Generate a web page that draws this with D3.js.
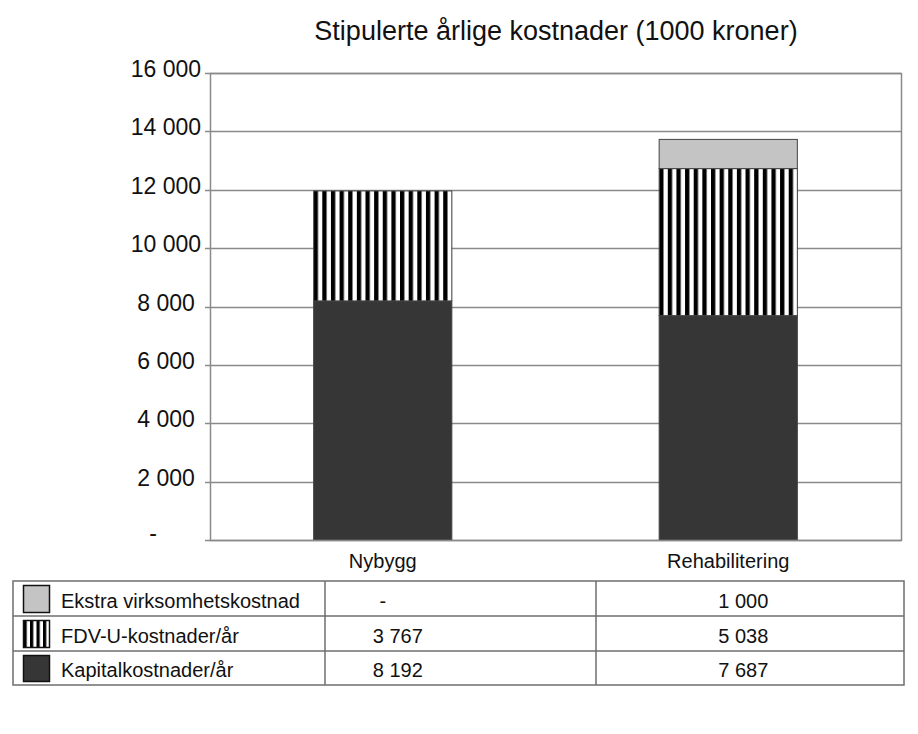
<!DOCTYPE html>
<html>
<head>
<meta charset="utf-8">
<script src="https://cdn.jsdelivr.net/npm/d3@7"></script>
<style>
  html, body { margin: 0; padding: 0; background: #fff; }
  svg { display: block; font-family: "Liberation Sans", Arial, sans-serif; }
</style>
</head>
<body>
<svg id="chart" width="918" height="734"></svg>
<script>
// ---- Data ----
const title = "Stipulerte årlige kostnader (1000 kroner)";
const categories = ["Nybygg", "Rehabilitering"];
const seriesNames = ["Kapitalkostnader/år", "FDV-U-kostnader/år", "Ekstra virksomhetskostnad"];
const kapitalkostnader = [8192, 7687];
const fdvuKostnader = [3767, 5038];
const ekstraKostnad = [0, 1000];
const yTickValues = [0, 2000, 4000, 6000, 8000, 10000, 12000, 14000, 16000];

// ---- Layout ----
const W = 918, H = 734;
const plot = { left: 210, right: 901, top: 73, bottom: 540 };
const table = { left: 13, right: 904, col1: 325, col2: 596, rows: [581, 616, 651, 685] };
const gridColor = "#8a8a8a";
const fills = ["#363636", "url(#stripesBar)", "#c4c4c4"];
const swatchFills = ["#363636", "url(#stripesSwatch)", "#c4c4c4"];

const locale = d3.formatLocale({ decimal: ",", thousands: " ", grouping: [3], currency: ["", ""] });
const fmtNum = locale.format(",d");
const fmt = v => v === 0 ? "-" : fmtNum(v);

const svg = d3.select("#chart");

// patterns
const defs = svg.append("defs");
function stripes(id, frac) {
  const p = defs.append("pattern").attr("id", id)
    .attr("patternUnits", "objectBoundingBox")
    .attr("patternContentUnits", "objectBoundingBox")
    .attr("width", frac).attr("height", 1);
  p.append("rect").attr("x", 0).attr("y", 0).attr("width", frac).attr("height", 1).attr("fill", "#fff");
  p.append("rect").attr("x", 0).attr("y", 0).attr("width", frac * 0.5).attr("height", 1).attr("fill", "#000");
}
stripes("stripesBar", 1 / 16);
stripes("stripesSwatch", 1 / 4);

// scales
const x = d3.scaleBand().domain(categories).range([plot.left, plot.right])
  .paddingInner(0.6).paddingOuter(0.3);
const y = d3.scaleLinear().domain([0, 16000]).range([plot.bottom, plot.top]);

// title
svg.append("text").attr("x", 556).attr("y", 40).attr("text-anchor", "middle")
  .attr("font-size", 27).attr("fill", "#111").text(title);

// gridlines + ticks
const grid = svg.append("g");
grid.selectAll("line").data(yTickValues).join("line")
  .attr("x1", plot.left - 5).attr("x2", plot.right)
  .attr("y1", d => Math.round(y(d)) + 0.5).attr("y2", d => Math.round(y(d)) + 0.5)
  .attr("stroke", gridColor).attr("stroke-width", 1.3);

// y axis labels
svg.append("g").selectAll("text").data(yTickValues).join("text")
  .attr("x", d => d === 0 ? 153 : 166)
  .attr("y", d => y(d) + (d === 0 ? 1 : 4))
  .attr("text-anchor", "middle")
  .attr("font-size", 23).attr("fill", "#111")
  .text(d => fmt(d));

// stacked data
const rows = categories.map((c, i) => ({
  cat: c, k: kapitalkostnader[i], f: fdvuKostnader[i], e: ekstraKostnad[i]
}));
const stack = d3.stack().keys(["k", "f", "e"])(rows);

const barG = svg.append("g");
stack.forEach((layer, si) => {
  barG.selectAll(null).data(layer.filter(d => d[1] - d[0] > 0)).join("rect")
    .attr("x", d => x(d.data.cat))
    .attr("width", x.bandwidth())
    .attr("y", d => y(d[1]))
    .attr("height", d => y(d[0]) - y(d[1]))
    .attr("fill", fills[si])
    .attr("stroke", "#444").attr("stroke-width", 1);
});

// plot frame
svg.append("rect").attr("x", plot.left + 0.5).attr("y", plot.top + 0.5)
  .attr("width", plot.right - plot.left).attr("height", plot.bottom - plot.top)
  .attr("fill", "none").attr("stroke", gridColor).attr("stroke-width", 1.5);

// category labels
svg.append("g").selectAll("text").data(categories).join("text")
  .attr("x", d => x(d) + x.bandwidth() / 2)
  .attr("y", 568).attr("text-anchor", "middle")
  .attr("font-size", 20).attr("fill", "#111").text(d => d);

// ---- data table ----
const tg = svg.append("g");
const lineColor = "#6e6e6e";
tg.append("rect").attr("x", table.left).attr("y", table.rows[0])
  .attr("width", table.right - table.left).attr("height", table.rows[3] - table.rows[0])
  .attr("fill", "none").attr("stroke", lineColor).attr("stroke-width", 1.5);
[table.rows[1], table.rows[2]].forEach(yy => {
  tg.append("line").attr("x1", table.left).attr("x2", table.right)
    .attr("y1", yy).attr("y2", yy).attr("stroke", lineColor).attr("stroke-width", 1.5);
});
[table.col1, table.col2].forEach(xx => {
  tg.append("line").attr("x1", xx).attr("x2", xx)
    .attr("y1", table.rows[0]).attr("y2", table.rows[3]).attr("stroke", lineColor).attr("stroke-width", 1.5);
});

const tableSeries = [
  { name: seriesNames[2], values: ekstraKostnad, fill: swatchFills[2] },
  { name: seriesNames[1], values: fdvuKostnader, fill: swatchFills[1] },
  { name: seriesNames[0], values: kapitalkostnader, fill: swatchFills[0] }
];
tableSeries.forEach((s, r) => {
  const top = table.rows[r], bot = table.rows[r + 1], mid = (top + bot) / 2;
  tg.append("rect").attr("x", 23.5).attr("y", top + 4.5)
    .attr("width", 26).attr("height", bot - top - 8)
    .attr("fill", s.fill).attr("stroke", "#111").attr("stroke-width", 1.5);
  tg.append("text").attr("x", 61).attr("y", mid + 9)
    .attr("font-size", 20).attr("fill", "#111").text(s.name);
  s.values.forEach((v, i) => {
    const cx = x(categories[i]) + x.bandwidth() / 2 + (v === 0 ? 0 : 15);
    tg.append("text").attr("x", cx).attr("y", mid + 9).attr("text-anchor", "middle")
      .attr("font-size", 20).attr("fill", "#111").text(fmt(v));
  });
});
</script>
</body>
</html>
